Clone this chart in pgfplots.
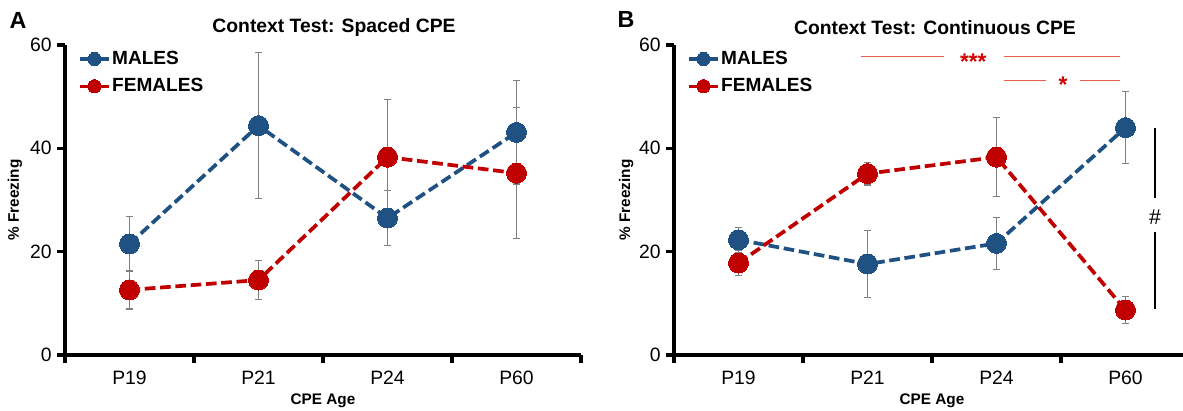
\documentclass[border=0pt]{standalone}
\usepackage{fontspec}
\setmainfont{Liberation Sans}
\usepackage{pgfplots}
\pgfplotsset{compat=1.18}
\definecolor{mblue}{RGB}{31,82,130}
\definecolor{fred}{RGB}{192,0,0}
\definecolor{ebgray}{RGB}{128,128,128}
\definecolor{annred}{RGB}{232,96,76}
\definecolor{starred}{RGB}{210,0,0}

\pgfplotsset{
  panel/.style={
    scale only axis, height=232.5pt,
    xmin=-0.5, ymin=0, ymax=60,
    clip=false,
    axis x line=bottom, axis y line=left,
    axis line style={-, line width=3pt, black},
    xtick={-0.5,0.5,1.5,2.5,3.5}, xticklabels={},
    extra x ticks={0,1,2,3},
    extra x tick labels={P19,P21,P24,P60},
    extra x tick style={major tick length=0pt, xticklabel style={anchor=north, yshift=-8.5pt}},
    ytick={0,20,40,60},
    tick align=outside,
    major tick length=6pt,
    tick style={line width=2.6pt, black},
    tick label style={font=\fontsize{14.5}{16}\selectfont},
    yticklabel style={xshift=-0.5pt},
    /pgf/number format/assume math mode=true,
    xlabel={CPE Age},
    xlabel style={at={(axis cs:1.5,0)}, anchor=center, yshift=-34.5pt, font=\bfseries\fontsize{11.5}{13}\selectfont},
    ylabel={\% Freezing},
    ylabel style={anchor=center, font=\bfseries\fontsize{11.5}{13}\selectfont},
    legend style={at={(axis description cs:0,1)}, anchor=north west, xshift=9.75pt, yshift=-3.5pt,
      draw=none, fill=none, inner sep=0pt, row sep=7pt,
      font=\bfseries\fontsize{14.3}{16}\selectfont,
      nodes={inner xsep=1pt, inner ysep=1pt}},
    legend cell align=left,
    legend image code/.code={\draw[mark repeat=2,mark phase=2,#1] plot coordinates {(0pt,0pt)(11pt,0pt)(22pt,0pt)};},
    legend image post style={solid, line width=2.4pt, mark size=5pt},
  },
  males/.style={color=mblue, line width=2.8pt, dash pattern=on 8pt off 3.5pt, mark=*, mark size=7.5pt, mark options={solid, draw=mblue, fill=mblue, line width=0pt}},
  females/.style={color=fred, line width=2.8pt, dash pattern=on 8pt off 3.5pt, mark=*, mark size=7.5pt, mark options={solid, draw=fred, fill=fred, line width=0pt}},
  errs/.style={only marks, mark=none, forget plot,
    error bars/.cd, y dir=both, y explicit,
    error bar style={draw=ebgray, line width=0.8pt, solid},
    error mark options={draw=ebgray, line width=0.8pt, rotate=90, mark size=2.6pt, solid}},
}

\begin{document}
\begin{tikzpicture}
\useasboundingbox (0,0) rectangle (887.25pt,308.25pt);

% panel letters and titles
\node[font=\bfseries\fontsize{17.5}{20}\selectfont] at (13.5pt,293.25pt) {A};
\node[font=\bfseries\fontsize{17.5}{20}\selectfont] at (469.5pt,294pt) {B};
\node[font=\bfseries\fontsize{14.5}{16}\selectfont] at (250.5pt,287.25pt) {Context Test: Spaced CPE};
\node[font=\bfseries\fontsize{14.5}{16}\selectfont] at (701.25pt,287.25pt) {Context Test: Continuous CPE};

% ---------------- Panel A ----------------
\begin{axis}[panel, at={(48.75pt,42pt)}, anchor=south west, width=387pt, xmax=3.5,
  ylabel style={at={(axis description cs:-0.097,0.5)}}]
\addplot[errs] coordinates {(0,21.5) +- (0,5.3) (1,44.4) +- (0,14.1) (2,26.5) +- (0,5.3) (3,43.1) +- (0,10.0)};
\addplot[errs] coordinates {(0,12.6) +- (0,3.7) (1,14.5) +- (0,3.8) (2,38.3) +- (0,11.1) (3,35.2) +- (0,12.7)};
\addplot[males] coordinates {(0,21.5) (1,44.4) (2,26.5) (3,43.1)};
\addlegendentry{MALES}
\addplot[females] coordinates {(0,12.6) (1,14.5) (2,38.3) (3,35.2)};
\addlegendentry{FEMALES}
\end{axis}

% ---------------- Panel B ----------------
\begin{axis}[panel, at={(505.5pt,42pt)}, anchor=south west, width=381.75pt, xmax=3.446,
  ylabel style={at={(axis description cs:-0.094,0.5)}}]
\addplot[errs] coordinates {(0,22.3) +- (0,2.4) (1,17.6) +- (0,6.5) (2,21.6) +- (0,5.0) (3,44.0) +- (0,7.0)};
\addplot[errs] coordinates {(0,17.8) +- (0,2.4) (1,35.1) +- (0,2.2) (2,38.3) +- (0,7.7) (3,8.7) +- (0,2.6)};
\addplot[males] coordinates {(0,22.3) (1,17.6) (2,21.6) (3,44.0)};
\addlegendentry{MALES}
\addplot[females] coordinates {(0,17.8) (1,35.1) (2,38.3) (3,8.7)};
\addlegendentry{FEMALES}
% significance annotations
\draw[annred, line width=0.8pt] (axis cs:0.95,57.7) -- (axis cs:1.59,57.7);
\draw[annred, line width=0.8pt] (axis cs:2.06,57.7) -- (axis cs:2.96,57.7);
\node[text=starred, font=\bfseries\fontsize{17}{17}\selectfont, yshift=-3.5pt] at (axis cs:1.82,57.7) {***};
\draw[annred, line width=0.8pt] (axis cs:2.06,53.2) -- (axis cs:2.38,53.2);
\draw[annred, line width=0.8pt] (axis cs:2.65,53.2) -- (axis cs:2.96,53.2);
\node[text=starred, font=\bfseries\fontsize{17}{17}\selectfont, yshift=-3.5pt] at (axis cs:2.515,53.2) {*};
\draw[black, line width=1.2pt] (axis cs:3.23,43.9) -- (axis cs:3.23,30.4);
\draw[black, line width=1.2pt] (axis cs:3.23,23.8) -- (axis cs:3.23,8.9);
\node[font=\fontsize{16}{18}\selectfont] at (axis cs:3.23,26.7) {\#};
\end{axis}
\end{tikzpicture}
\end{document}
